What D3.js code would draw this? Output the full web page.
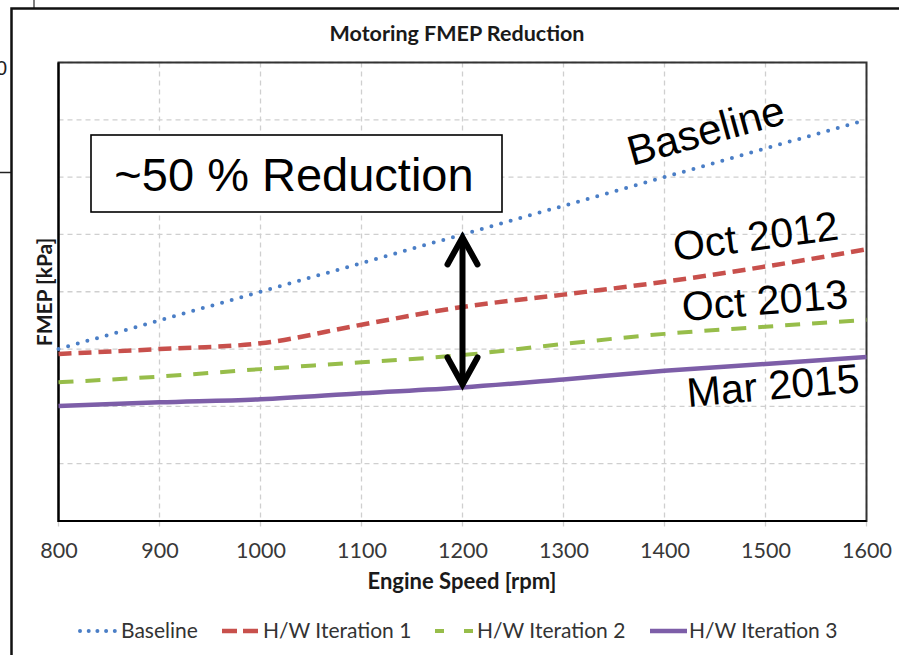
<!DOCTYPE html>
<html><head><meta charset="utf-8">
<script src="https://cdn.jsdelivr.net/npm/d3@7"></script>
<style>html,body{margin:0;padding:0;background:#fff;}svg{display:block;}</style>
</head><body>
<svg id="c" width="899" height="655"></svg>
<script>
const rpm = [800, 900, 1000, 1100, 1200, 1300, 1400, 1500, 1600];
const baseline = [60, 70, 80, 90, 100, 110, 120, 130, 140];
const iter1 = [58.3, 60, 62, 68.5, 74.7, 79, 83.5, 88.8, 94.8];
const iter2 = [48.4, 50.4, 53.0, 55.4, 57.9, 61.8, 65.3, 67.8, 70.2];
const iter3 = [40.1, 41.4, 42.5, 44.6, 46.6, 49.4, 52.4, 54.8, 57.2];
const xTicks = [800, 900, 1000, 1100, 1200, 1300, 1400, 1500, 1600];
const yTicks = [0, 20, 40, 60, 80, 100, 120, 140, 160];
const seriesNames = ["Baseline", "H/W Iteration 1", "H/W Iteration 2", "H/W Iteration 3"];
const labels = ["Baseline", "Oct 2012", "Oct 2013", "Mar 2015"];

const svg = d3.select("#c");
const x = d3.scaleLinear().domain([800, 1600]).range([58.5, 866.5]);
const y = d3.scaleLinear().domain([0, 160]).range([521, 62.5]);

// background fragments (from slide), partly hidden by the chart frame
svg.append("text").attr("x", -4).attr("y", 75).attr("font-family", "Liberation Sans, Arial, sans-serif")
  .attr("font-size", 20).attr("fill", "#222").text("0");
svg.append("line").attr("x1", 34).attr("x2", 34).attr("y1", 0).attr("y2", 8).attr("stroke", "#555").attr("stroke-width", 1.5);
svg.append("line").attr("x1", 0).attr("x2", 11).attr("y1", 172.5).attr("y2", 172.5).attr("stroke", "#222").attr("stroke-width", 1.5);
// outer chart frame
svg.append("rect").attr("x", 11.5).attr("y", 8.5).attr("width", 900).attr("height", 700)
  .attr("fill", "#fff").attr("stroke", "#111").attr("stroke-width", 2.5);

const font = "Lato, 'Open Sans', sans-serif";
const arial = "'Liberation Sans', Arial, sans-serif";

// gridlines
const g = svg.append("g");
g.selectAll("line.hg").data(yTicks).join("line")
  .attr("x1", x(800)).attr("x2", x(1600)).attr("y1", d => y(d)).attr("y2", d => y(d))
  .attr("stroke", "#cfcfcf").attr("stroke-width", 1.3).attr("stroke-dasharray", "5,4");
g.selectAll("line.vg").data(xTicks).join("line")
  .attr("x1", d => x(d)).attr("x2", d => x(d)).attr("y1", y(160)).attr("y2", y(0) + 7)
  .attr("stroke", "#cfcfcf").attr("stroke-width", 1.3).attr("stroke-dasharray", "5,4");

// plot border
svg.append("rect").attr("x", x(800)).attr("y", y(160)).attr("width", x(1600) - x(800)).attr("height", y(0) - y(160))
  .attr("fill", "none").attr("stroke", "#333").attr("stroke-width", 2);
svg.append("path").attr("d", `M${x(800)},${y(160)}V${y(0)}H${x(1600)}`).attr("fill", "none").attr("stroke", "#000").attr("stroke-width", 2.2);

// x axis labels
const xAxis = d3.axisBottom(x).tickValues(xTicks).tickSize(0).tickPadding(0).tickFormat(d3.format("d"));
const ax = svg.append("g").attr("transform", `translate(0,${y(0)})`).call(xAxis);
ax.select(".domain").remove();
ax.selectAll("text").attr("font-family", font).attr("font-size", 21.5).attr("fill", "#383838").attr("dy", null).attr("y", 37);

// titles
svg.append("text").attr("x", 457).attr("y", 41).attr("text-anchor", "middle").attr("font-family", font)
  .attr("font-weight", "bold").attr("font-size", 21.5).attr("fill", "#1a1a1a").text("Motoring FMEP Reduction");
svg.append("text").attr("x", 462).attr("y", 589).attr("text-anchor", "middle").attr("font-family", font)
  .attr("font-weight", "bold").attr("font-size", 22).attr("fill", "#1a1a1a").text("Engine Speed [rpm]");
svg.append("text").attr("transform", "translate(52,292) rotate(-90)").attr("text-anchor", "middle").attr("font-family", font)
  .attr("font-weight", "bold").attr("font-size", 21).attr("fill", "#1a1a1a").text("FMEP [kPa]");

// series
const styles = [
  {color: "#4a7ec6", width: 4, dash: "0,10", cap: "round"},
  {color: "#c8504c", width: 4.5, dash: "13,7", cap: "butt"},
  {color: "#97bd4a", width: 4, dash: "15,12", cap: "butt"},
  {color: "#7d5ea8", width: 4.5, dash: null, cap: "butt"}
];
const data = [baseline, iter1, iter2, iter3];
const line = d3.line().x((d, i) => x(rpm[i])).y(d => y(d)).curve(d3.curveMonotoneX);
data.forEach((s, k) => {
  svg.append("path").attr("d", line(s)).attr("fill", "none").attr("stroke", styles[k].color)
    .attr("stroke-width", styles[k].width).attr("stroke-dasharray", styles[k].dash).attr("stroke-linecap", styles[k].cap);
});

// arrow
const ax0 = x(1200), yTop = y(baseline[4]) + 1, yBot = y(iter3[4]) - 1;
const arrow = svg.append("g").attr("fill", "none").attr("stroke", "#000").attr("stroke-width", 6)
  .attr("stroke-linecap", "round").attr("stroke-linejoin", "miter");
arrow.append("line").attr("x1", ax0).attr("x2", ax0).attr("y1", yTop + 3).attr("y2", yBot - 3);
arrow.append("path").attr("d", `M${ax0 - 15},${yTop + 29}L${ax0},${yTop + 2}L${ax0 + 15},${yTop + 29}`);
arrow.append("path").attr("d", `M${ax0 - 15},${yBot - 29}L${ax0},${yBot - 2}L${ax0 + 15},${yBot - 29}`);

// reduction box
svg.append("rect").attr("x", 91).attr("y", 135).attr("width", 411).attr("height", 77)
  .attr("fill", "#fff").attr("stroke", "#000").attr("stroke-width", 1.6);
svg.append("text").attr("x", 294).attr("y", 191).attr("text-anchor", "middle").attr("font-family", arial)
  .attr("font-size", 47).attr("fill", "#000").text("~50 % Reduction");

// rotated series labels
const labelPos = [[632, 166, -15.5, 42], [675, 261, -7.5, 41], [683, 321, -4.5, 41], [688, 407, -5, 41]];
labels.forEach((t, i) => {
  svg.append("text").attr("transform", `translate(${labelPos[i][0]},${labelPos[i][1]}) rotate(${labelPos[i][2]})`)
    .attr("font-family", arial).attr("font-size", labelPos[i][3]).attr("fill", "#000").text(t);
});

// legend
const legX = [[80, 116, 121], [222, 258, 263], [435, 473, 477], [650, 687, 689]];
const legDash = ["0,8.7", "15,6", "9,20", null];
const lg = svg.append("g");
seriesNames.forEach((n, i) => {
  const s = styles[i];
  lg.append("line").attr("x1", legX[i][0]).attr("x2", legX[i][1]).attr("y1", 631).attr("y2", 631)
    .attr("stroke", s.color).attr("stroke-width", s.width).attr("stroke-linecap", s.cap)
    .attr("stroke-dasharray", legDash[i]);
  lg.append("text").attr("x", legX[i][2]).attr("y", 638).attr("font-family", font).attr("font-size", 21)
    .attr("fill", "#333").text(n);
});
</script>
</body></html>
